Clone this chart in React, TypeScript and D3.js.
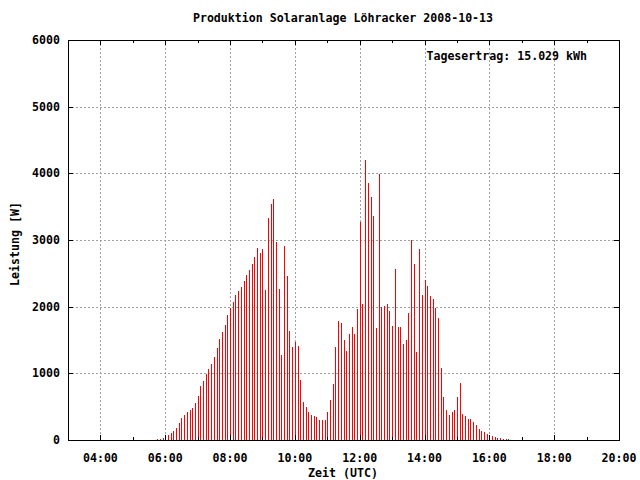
import React from "react";
import * as d3 from "d3";

const TITLE = "Produktion Solaranlage Löhracker 2008-10-13";
const YIELD_LABEL = "Tagesertrag: 15.029 kWh";
const X_LABEL = "Zeit (UTC)";
const Y_LABEL = "Leistung [W]";

// measurement start (UTC) and sampling interval
const START_HOUR = 5;
const START_MINUTE = 45;
const INTERVAL_MIN = 5;

// power readings [W], one every 5 minutes from 05:45 UTC
const POWER_MORNING = [
  15, 15, 30, 50, 75, 105, 135, 180, 255, 330, 375, 420, 450, 480, 555, 660, 810, 885, 990, 1065,
  1140, 1245, 1380, 1515, 1620, 1725, 1875, 1980, 2070, 2175, 2235, 2295, 2385, 2475, 2550, 2640, 2745, 2880,
];
const POWER_LATE_MORNING = [
  2805, 2865, 2250, 3330, 3540, 3615, 2970, 2265, 1275, 2910, 2460, 1635, 1395, 1470, 1410, 900, 570, 495, 420,
];
const POWER_NOONISH = [
  375, 360, 345, 300, 300, 300, 420, 600, 840, 1395, 1785, 1755, 1500, 1335, 1590, 1695, 1590, 1965,
];
const POWER_NOON = [
  3270, 2040, 4200, 3855, 3645, 3360, 1680, 3990, 1995, 2010, 2040, 1935, 1710, 2565, 1695, 1695, 1440, 1500, 1905,
];
const POWER_AFTERNOON = [
  3000, 2640, 1320, 2865, 2175, 2400, 2310, 2160, 2115, 1980, 1830, 1080, 645, 450, 375, 420, 450, 645,
];
const POWER_EVENING = [
  855, 390, 360, 315, 315, 270, 225, 165, 135, 120, 90, 75, 60, 45, 30, 30, 15, 15, 15,
];
const POWER = [
  ...POWER_MORNING,
  ...POWER_LATE_MORNING,
  ...POWER_NOONISH,
  ...POWER_NOON,
  ...POWER_AFTERNOON,
  ...POWER_EVENING,
];

const X_START_HOUR = 3;
const X_END_HOUR = 20;
const X_MAJOR_HOURS = [4, 6, 8, 10, 12, 14, 16, 18, 20];
const X_MINOR_HOURS = [5, 7, 9, 11, 13, 15, 17, 19];
const Y_TICKS = [0, 1000, 2000, 3000, 4000, 5000, 6000];

const W = 640;
const H = 480;
const M = { left: 68, right: 619, top: 40, bottom: 440 };
const FONT = "'DejaVu Sans Mono', 'Liberation Mono', monospace";
const FS = 11.6;

const utc = (h: number, m = 0) => new Date(Date.UTC(2008, 9, 13, h, m));

export default function App() {
  const x = d3
    .scaleUtc()
    .domain([utc(X_START_HOUR), utc(X_END_HOUR)])
    .range([M.left, M.right]);
  const y = d3.scaleLinear().domain([0, 6000]).range([M.bottom, M.top]);
  const fmt = d3.utcFormat("%H:%M");
  const start = utc(START_HOUR, START_MINUTE);
  const data = POWER.map((v, i) => ({
    t: d3.utcMinute.offset(start, i * INTERVAL_MIN),
    v,
  }));
  const px = (v: number) => Math.round(v) + 0.5;

  return (
    <svg
      width={W}
      height={H}
      style={{ position: "absolute", left: 0, top: 0, background: "#fff" }}
      fontFamily={FONT}
      fontWeight="bold"
      fontSize={FS}
    >
      <rect x={0} y={0} width={W} height={H} fill="#fff" />
      {/* grid */}
      <g stroke="#a0a0a0" strokeWidth={1} strokeDasharray="2,2" shapeRendering="crispEdges">
        {X_MAJOR_HOURS.filter((h) => h < X_END_HOUR).map((h) => (
          <line key={"gx" + h} x1={px(x(utc(h)))} x2={px(x(utc(h)))} y1={M.top} y2={M.bottom} />
        ))}
        {Y_TICKS.filter((t) => t > 0 && t < 6000).map((t) => (
          <line key={"gy" + t} x1={M.left} x2={M.right} y1={px(y(t))} y2={px(y(t))} />
        ))}
      </g>
      {/* bars */}
      <g stroke="#ff0000" strokeWidth={1} shapeRendering="crispEdges">
        {data.map((d, i) => (
          <line key={i} x1={px(x(d.t))} x2={px(x(d.t))} y1={y(0)} y2={y(d.v)} />
        ))}
      </g>
      {/* ticks */}
      <g stroke="#000" strokeWidth={1} shapeRendering="crispEdges">
        {X_MAJOR_HOURS.map((h) => (
          <g key={"tM" + h}>
            <line x1={px(x(utc(h)))} x2={px(x(utc(h)))} y1={M.bottom} y2={M.bottom - 5} />
            <line x1={px(x(utc(h)))} x2={px(x(utc(h)))} y1={M.top} y2={M.top + 5} />
          </g>
        ))}
        {X_MINOR_HOURS.map((h) => (
          <g key={"tm" + h}>
            <line x1={px(x(utc(h)))} x2={px(x(utc(h)))} y1={M.bottom} y2={M.bottom - 3} />
            <line x1={px(x(utc(h)))} x2={px(x(utc(h)))} y1={M.top} y2={M.top + 3} />
          </g>
        ))}
        {Y_TICKS.map((t) => (
          <g key={"ty" + t}>
            <line x1={M.left} x2={M.left + 5} y1={px(y(t))} y2={px(y(t))} />
            <line x1={M.right} x2={M.right - 5} y1={px(y(t))} y2={px(y(t))} />
          </g>
        ))}
        <rect
          x={M.left + 0.5}
          y={M.top + 0.5}
          width={M.right - M.left}
          height={M.bottom - M.top}
          fill="none"
        />
      </g>
      {/* labels */}
      <g fill="#000">
        {Y_TICKS.map((t) => (
          <text key={"ly" + t} x={60} y={y(t) + 4} textAnchor="end">
            {t}
          </text>
        ))}
        {X_MAJOR_HOURS.map((h) => (
          <text key={"lx" + h} x={x(utc(h))} y={462} textAnchor="middle">
            {fmt(utc(h))}
          </text>
        ))}
        <text x={343} y={22} textAnchor="middle">
          {TITLE}
        </text>
        <text x={343} y={477} textAnchor="middle">
          {X_LABEL}
        </text>
        <text transform={`translate(19,244) rotate(-90)`} textAnchor="middle">
          {Y_LABEL}
        </text>
        <text x={587} y={60} textAnchor="end">
          {YIELD_LABEL}
        </text>
      </g>
    </svg>
  );
}
